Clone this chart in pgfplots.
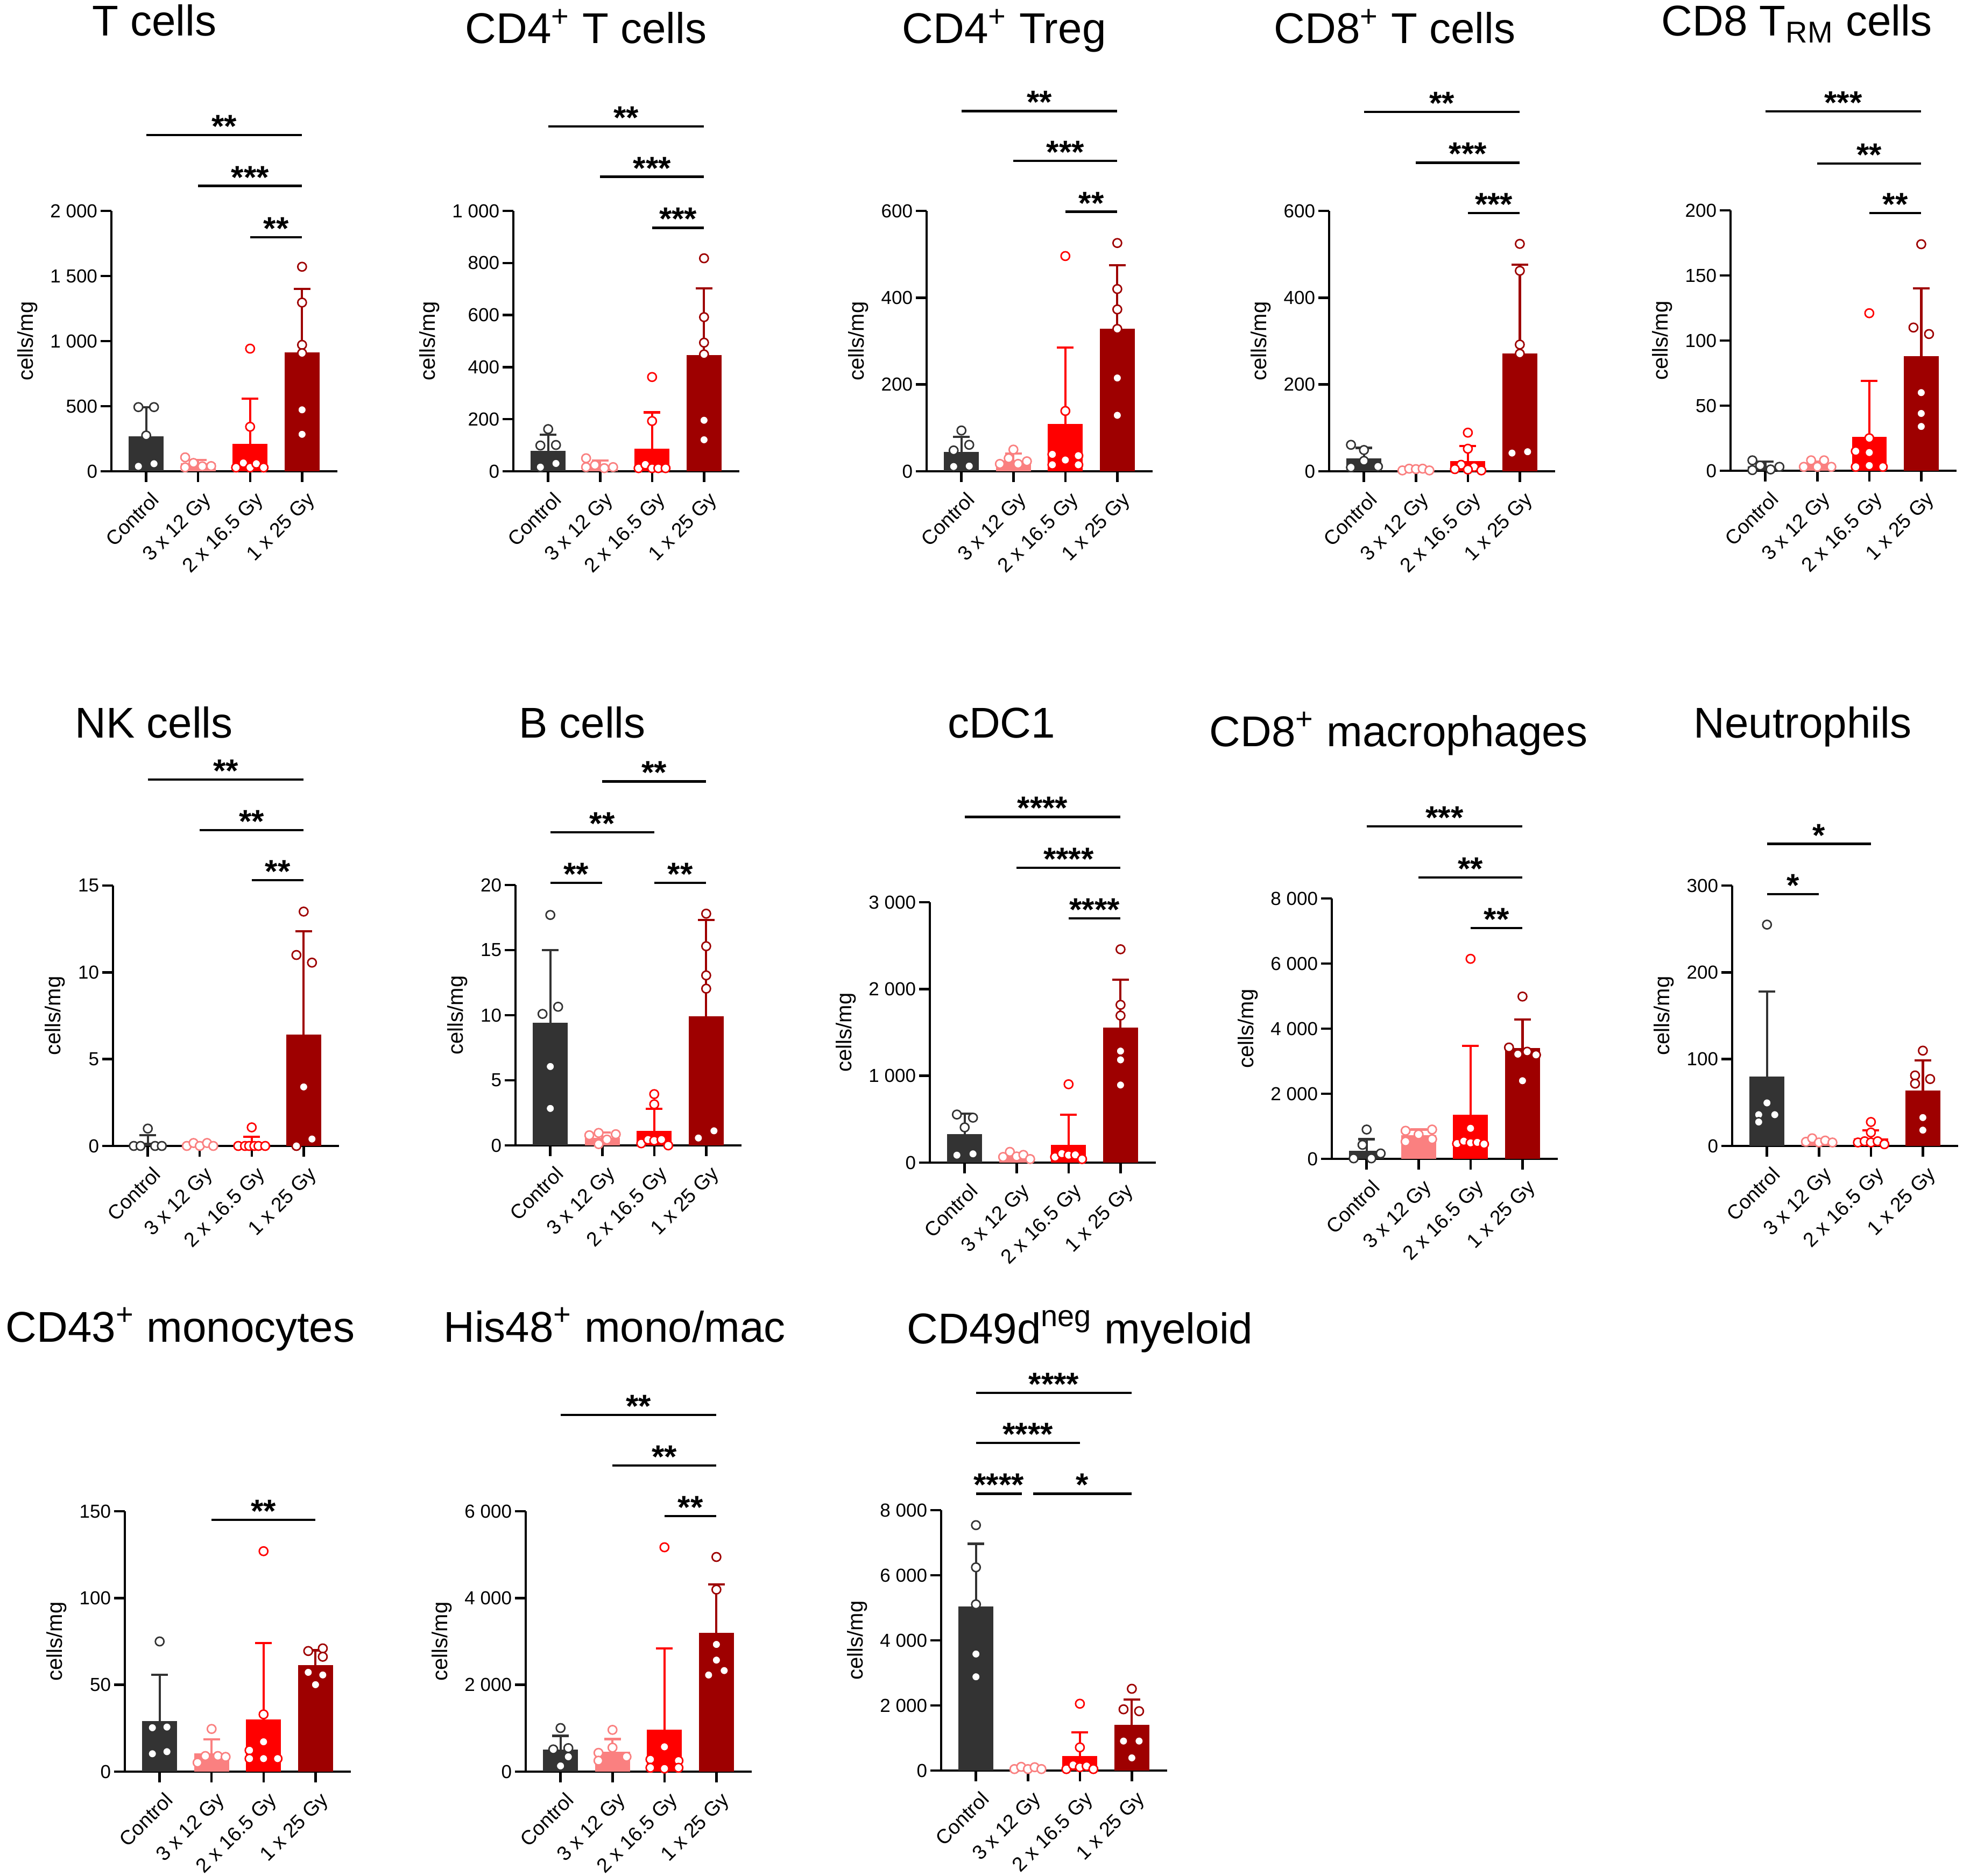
\documentclass[border=0pt]{standalone}
\usepackage{fontspec}
\setmainfont{Liberation Sans}
\usepackage{pgfplots}
\pgfplotsset{compat=1.18}
\definecolor{cC}{RGB}{51,51,51}
\definecolor{cA}{RGB}{250,128,128}
\definecolor{cB}{RGB}{255,0,0}
\definecolor{cD}{RGB}{158,0,0}
\newcommand{\tickfont}{\fontsize{7}{8}\selectfont}
\newcommand{\xtickfont}{\fontsize{7.5}{8.5}\selectfont}
\newcommand{\starfont}{\fontsize{12}{14}\selectfont\bfseries}
\newcommand{\titlefont}{\fontsize{16}{19}\selectfont}
\pgfplotsset{panel/.style={
  scale only axis, width=84pt, height=96.8pt,
  anchor=south west,
  xmin=-0.67, xmax=3.68, ymin=0,
  axis x line*=bottom, axis y line*=left,
  axis line style={line width=0.9pt, black},
  xtick={0,1,2,3}, xticklabels={Control,3 x 12 Gy,2 x 16.5 Gy,1 x 25 Gy},
  tick align=outside, major tick length=4pt,
  tick style={line width=0.9pt, black},
  yticklabel style={inner sep=1pt, font=\tickfont},
  xticklabel style={xshift=1.4pt, yshift=-3pt, rotate=45, anchor=north east, inner sep=0pt, font=\xtickfont},
  ylabel={cells/mg}, ylabel style={font=\fontsize{8}{9}\selectfont, inner sep=0pt}, ylabel shift=3.6pt,
  clip=false,
  /pgf/number format/assume math mode=true,
}}
\newcommand{\bargrp}[4]{%
\addplot[ybar, bar width=0.67, bar shift=0pt, fill=#4, draw=none,
  error bars/.cd, y dir=plus, y explicit,
  error bar style={draw=#4, line width=0.85pt},
  error mark options={rotate=90, draw=#4, line width=0.85pt, mark size=3.1pt}]
  coordinates {(#1,#2) +- (0,#3)};}
\newcommand{\pts}[2]{%
\addplot[only marks, mark=*, mark size=1.6pt, mark options={solid, fill=white, draw=#1, line width=0.55pt}] coordinates {#2};}
\newcommand{\sig}[4]{%
\addplot[black, line width=0.85pt] coordinates {(#1,#3) (#2,#3)} node[pos=0.5, anchor=base, yshift=-0.9pt, inner sep=0pt, font=\starfont, black] {#4};}
\begin{document}
\begin{tikzpicture}
\useasboundingbox (0,0) rectangle (729.6pt,697.2pt);
% ---- Row 1 ----
\begin{axis}[panel, at={(41.4pt,522pt)}, ymax=2000, ytick={0,500,1000,1500,2000}, yticklabels={0,500,1 000,1 500,2 000}]
\bargrp{0}{267}{226}{cC}
\bargrp{1}{64}{23}{cA}
\bargrp{2}{212}{345}{cB}
\bargrp{3}{913}{487}{cD}
\pts{cC}{(-0.15,493)(0.15,493)(0,275)(-0.15,38)(0.15,58)}
\pts{cA}{(0.75,107)(0.75,30)(0.91,64)(1.08,38)(1.25,40)}
\pts{cB}{(2,942)(2,342)(1.73,29)(1.87,64)(2,29)(2.12,58)(2.26,29)}
\pts{cD}{(3,1571)(3,1296)(3,971)(3,907)(3,472)(3,284)}
\sig{0}{3}{2582}{**}
\sig{1}{3}{2192}{***}
\sig{2}{3}{1798}{**}
\end{axis}
\begin{axis}[panel, at={(190.8pt,522pt)}, ymax=1000, ytick={0,200,400,600,800,1000}, yticklabels={0,200,400,600,800,1 000}]
\bargrp{0}{79}{61}{cC}
\bargrp{1}{23}{18}{cA}
\bargrp{2}{87}{139}{cB}
\bargrp{3}{446}{256}{cD}
\pts{cC}{(0,162)(-0.15,99)(0.15,101)(-0.15,16)(0.15,30)}
\pts{cA}{(0.73,50)(0.73,16)(0.9,24)(1.08,12)(1.25,16)}
\pts{cB}{(2,362)(2,193)(1.74,12)(1.87,26)(2,12)(2.12,12)(2.26,12)}
\pts{cD}{(3,818)(3,592)(3,494)(3,449)(3,196)(3,121)}
\sig{0}{3}{1324}{**}
\sig{1}{3}{1131}{***}
\sig{2}{3}{935}{***}
\end{axis}
\begin{axis}[panel, at={(344.4pt,522pt)}, ymax=600, ytick={0,200,400,600}]
\bargrp{0}{44.5}{34.5}{cC}
\bargrp{1}{25}{16}{cA}
\bargrp{2}{109}{176}{cB}
\bargrp{3}{328}{147}{cD}
\pts{cC}{(0,94)(-0.15,48)(0.15,61)(-0.15,11)(0.15,12)}
\pts{cA}{(1,50)(0.91,30)(0.74,17)(1.09,17)(1.26,23)}
\pts{cB}{(2,496)(2,139)(1.75,39)(2.25,36)(2,26)(1.75,15)(2.25,15)}
\pts{cD}{(3,526)(3,420)(3,373)(3,328)(3,215)(3,129)}
\sig{0}{3}{830}{**}
\sig{1}{3}{715}{***}
\sig{2}{3}{598}{**}
\end{axis}
\begin{axis}[panel, at={(494pt,522pt)}, ymax=600, ytick={0,200,400,600}]
\bargrp{0}{30}{24}{cC}
\bargrp{1}{3}{2}{cA}
\bargrp{2}{24}{34}{cB}
\bargrp{3}{271}{205}{cD}
\pts{cC}{(-0.25,61)(0,49)(0,24)(-0.25,9)(0.27,11)}
\pts{cA}{(0.74,2)(0.87,6)(1,5)(1.13,6)(1.26,2)}
\pts{cB}{(2,89)(2,52)(1.87,15)(2.12,10)(1.75,5)(2,4)(2.26,2)}
\pts{cD}{(3,524)(3,462)(3,292)(3,271)(2.85,42)(3.15,45)}
\sig{0}{3}{828}{**}
\sig{1}{3}{711}{***}
\sig{2}{3}{595}{***}
\end{axis}
\begin{axis}[panel, at={(643.2pt,522.2pt)}, ymax=200, ytick={0,50,100,150,200}]
\bargrp{0}{3.2}{3.8}{cC}
\bargrp{1}{5}{2}{cA}
\bargrp{2}{26}{43}{cB}
\bargrp{3}{88}{52}{cD}
\pts{cC}{(-0.25,8)(-0.1,4)(-0.25,0.5)(0.1,1)(0.27,3)}
\pts{cA}{(0.74,3)(0.88,8)(1,3)(1.13,8)(1.27,3)}
\pts{cB}{(2,121)(2,25)(1.74,15)(2,14)(1.74,3)(2,4)(2.26,3)}
\pts{cD}{(3,174)(2.85,110)(3.15,105)(3,60)(3,44)(3,34)}
\sig{0}{3}{276}{***}
\sig{1}{3}{236}{**}
\sig{2}{3}{198}{**}
\end{axis}
% ---- Row 2 ----
\begin{axis}[panel, at={(42pt,271.2pt)}, ymax=15, ytick={0,5,10,15}]
\bargrp{0}{0.2}{0.43}{cC}
\bargrp{1}{0.07}{0.1}{cA}
\bargrp{2}{0.15}{0.38}{cB}
\bargrp{3}{6.42}{5.94}{cD}
\pts{cC}{(0,1.0)(-0.27,0)(-0.14,0)(0.14,0)(0.27,0)}
\pts{cA}{(0.75,0)(0.88,0.17)(1,0)(1.14,0.17)(1.26,0)}
\pts{cB}{(2,1.07)(1.74,0)(1.87,0)(1.95,0)(2.05,0)(2.13,0)(2.26,0)}
\pts{cD}{(3,13.5)(2.86,11.0)(3.16,10.56)(3,3.4)(3.16,0.4)(2.86,0)}
\sig{0}{3}{21.1}{**}
\sig{1}{3}{18.2}{**}
\sig{2}{3}{15.3}{**}
\end{axis}
\begin{axis}[panel, at={(191.6pt,271.4pt)}, ymax=20, ytick={0,5,10,15,20}]
\bargrp{0}{9.43}{5.57}{cC}
\bargrp{1}{0.57}{0.43}{cA}
\bargrp{2}{1.12}{1.7}{cB}
\bargrp{3}{9.9}{7.4}{cD}
\pts{cC}{(0,17.7)(-0.15,10.1)(0.15,10.65)(0,6.06)(0,2.84)}
\pts{cA}{(0.75,0.78)(0.93,0.96)(0.93,0.1)(1.09,0.45)(1.26,0.86)}
\pts{cB}{(2,3.94)(2,3.16)(1.75,0.16)(1.88,0.45)(2,0.37)(2.14,0.45)(2.27,0)}
\pts{cD}{(3,17.8)(3,15.3)(3,13.06)(3,12.04)(2.85,0.57)(3.15,1.12)}
\sig{1}{3}{27.96}{**}
\sig{0}{2}{24.04}{**}
\sig{0}{1}{20.16}{**}
\sig{2}{3}{20.16}{**}
\end{axis}
\begin{axis}[panel, at={(345.6pt,265pt)}, ymax=3000, ytick={0,1000,2000,3000}, yticklabels={0,1 000,2 000,3 000}]
\bargrp{0}{326}{237}{cC}
\bargrp{1}{78}{30}{cA}
\bargrp{2}{204}{350}{cB}
\bargrp{3}{1555}{553}{cD}
\pts{cC}{(-0.15,554)(0.16,518)(0,406)(-0.15,86)(0.16,101)}
\pts{cA}{(0.74,65)(0.87,124)(1,71)(1.13,89)(1.26,41)}
\pts{cB}{(2,903)(1.74,65)(1.87,104)(2,86)(2.13,89)(2.26,41)}
\pts{cD}{(3,2458)(3,1818)(3,1694)(3,1285)(3,1184)(3,894)}
\sig{0}{3}{3983}{****}
\sig{1}{3}{3399}{****}
\sig{2}{3}{2816}{****}
\end{axis}
\begin{axis}[panel, at={(495pt,266.4pt)}, ymax=8000, ytick={0,2000,4000,6000,8000}, yticklabels={0,2 000,4 000,6 000,8 000}]
\bargrp{0}{242}{363}{cC}
\bargrp{1}{734}{167}{cA}
\bargrp{2}{1355}{2119}{cB}
\bargrp{3}{3406}{877}{cD}
\pts{cC}{(0,901)(-0.08,431)(-0.25,15)(0.09,15)(0.27,166)}
\pts{cA}{(0.75,863)(1.26,901)(1,749)(0.75,530)(1.26,605)}
\pts{cB}{(2,6146)(2,939)(1.74,469)(1.87,545)(2,492)(2.13,507)(2.26,454)}
\pts{cD}{(3,4987)(2.74,3421)(2.91,3217)(3.09,3292)(3.26,3194)(3,2400)}
\sig{0}{3}{10210}{***}
\sig{1}{3}{8643}{**}
\sig{2}{3}{7092}{**}
\end{axis}
\begin{axis}[panel, at={(643.8pt,271.2pt)}, ymax=300, ytick={0,100,200,300}]
\bargrp{0}{80}{98}{cC}
\bargrp{1}{5}{2.5}{cA}
\bargrp{2}{8.8}{9.4}{cB}
\bargrp{3}{63.8}{34.8}{cD}
\pts{cC}{(0,255)(0,49.6)(-0.16,36)(0.15,36)(-0.16,27.6)}
\pts{cA}{(0.75,4.8)(0.87,8.8)(1,4)(1.12,6.2)(1.26,4)}
\pts{cB}{(2,27.6)(2,15.5)(1.75,4)(1.88,5.4)(2,4)(2.13,5.4)(2.26,2)}
\pts{cD}{(3,109.8)(2.85,81.2)(3.14,77.1)(2.85,71.8)(3,32.7)(3,18.2)}
\sig{0}{2}{348}{*}
\sig{0}{1}{290}{*}
\end{axis}
% ---- Row 3 ----
\begin{axis}[panel, at={(46.4pt,38.6pt)}, ymax=150, ytick={0,50,100,150}]
\bargrp{0}{29}{26.7}{cC}
\bargrp{1}{10.5}{8.1}{cA}
\bargrp{2}{30}{44}{cB}
\bargrp{3}{61.4}{8.5}{cD}
\pts{cC}{(0,75)(-0.14,25.3)(0.14,25.7)(-0.14,10.3)(0.14,11.5)}
\pts{cA}{(1,24.6)(0.73,5.2)(0.88,9)(1.12,9)(1.27,8.5)}
\pts{cB}{(2,127)(2,33)(2,17.2)(1.73,12.3)(1.73,7.5)(2,7.5)(2.27,7.5)}
\pts{cD}{(2.86,69.5)(3.14,71)(3.14,66.2)(2.86,57.2)(3.14,55.7)(3,50.1)}
\sig{1}{3}{145}{**}
\end{axis}
\begin{axis}[panel, at={(195.4pt,38.6pt)}, ymax=6000, ytick={0,2000,4000,6000}, yticklabels={0,2 000,4 000,6 000}]
\bargrp{0}{505}{320}{cC}
\bargrp{1}{463}{289}{cA}
\bargrp{2}{963}{1878}{cB}
\bargrp{3}{3201}{1114}{cD}
\pts{cC}{(0,1005)(-0.14,512)(0.15,542)(0.15,343)(0,132)}
\pts{cA}{(1,963)(0.73,433)(1,554)(1.27,343)(0.73,253)}
\pts{cB}{(2,5170)(2,572)(1.73,283)(2.27,253)(1.73,90)(2,72)(2.27,90)}
\pts{cD}{(3,4947)(3,4195)(3,2931)(3,2570)(3.15,2329)(2.85,2227)}
\sig{0}{3}{8215}{**}
\sig{1}{3}{7053}{**}
\sig{2}{3}{5892}{**}
\end{axis}
\begin{axis}[panel, at={(349.8pt,39pt)}, ymax=8000, ytick={0,2000,4000,6000,8000}, yticklabels={0,2 000,4 000,6 000,8 000}]
\bargrp{0}{5039}{1928}{cC}
\bargrp{1}{60}{30}{cA}
\bargrp{2}{448}{723}{cB}
\bargrp{3}{1400}{781}{cD}
\pts{cC}{(0,7540)(0,6244)(0,5107)(0,3581)(0,2881)}
\pts{cA}{(0.74,46)(0.87,115)(1,46)(1.13,103)(1.26,46)}
\pts{cB}{(2,2054)(2,712)(1.74,46)(1.87,172)(2,103)(2.13,138)(2.26,46)}
\pts{cD}{(3,2513)(2.84,1882)(3.14,1825)(2.84,907)(3.14,907)(3,390)}
\sig{0}{3}{11604}{****}
\sig{0}{2}{10066}{****}
\sig{0}{0.88}{8505}{****}
\sig{1.1}{3}{8505}{*}
\end{axis}
% ---- Titles ----
\begin{scope}[every node/.style={anchor=base, font=\titlefont, inner sep=0pt}]
\node at (57.4pt,683.8pt) {T cells};
\node at (217.8pt,681pt) {CD4\textsuperscript{+} T cells};
\node at (373.2pt,681pt) {CD4\textsuperscript{+} Treg};
\node at (518.4pt,681pt) {CD8\textsuperscript{+} T cells};
\node at (667.8pt,683.8pt) {CD8 T\textsubscript{RM} cells};
\node at (57.2pt,423pt) {NK cells};
\node at (216.4pt,423pt) {B cells};
\node at (372.2pt,423pt) {cDC1};
\node at (519.8pt,419.8pt) {CD8\textsuperscript{+} macrophages};
\node at (670pt,423pt) {Neutrophils};
\node at (67pt,198.4pt) {CD43\textsuperscript{+} monocytes};
\node at (228.4pt,198.4pt) {His48\textsuperscript{+} mono/mac};
\node at (401.4pt,197.8pt) {CD49d\textsuperscript{neg} myeloid};
\end{scope}
\end{tikzpicture}
\end{document}
